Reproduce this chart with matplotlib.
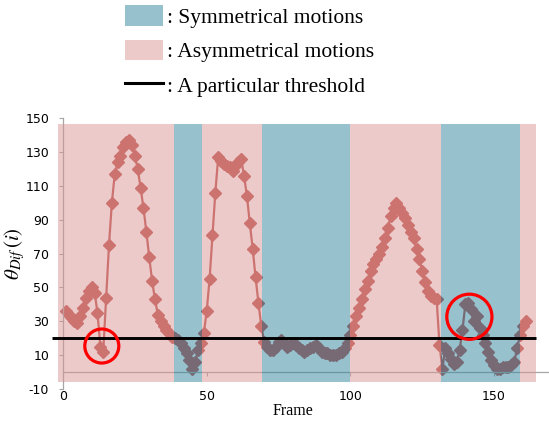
import numpy as np
import matplotlib
matplotlib.use("Agg")
import matplotlib.pyplot as plt
from matplotlib.patches import Patch
from matplotlib.lines import Line2D

plt.rcParams['mathtext.fontset'] = 'stix'
plt.rcParams['axes.unicode_minus'] = False

# theta_Dif per frame (frames 1..161)
theta_dif = [36, 34, 32, 30, 29, 33, 38, 44, 48, 50,
             47, 35, 15, 12, 44, 75, 100, 117, 124, 128,
             133, 136, 137, 134, 128, 120, 109, 97, 83, 68,
             54, 43, 34, 30, 27, 25, 23, 21, 20, 19,
             17, 14, 11, 7, 2, 6, 13, 17, 23, 36,
             55, 81, 106, 127, 125, 123, 122, 121, 119, 122,
             124, 126, 116, 104, 88, 73, 56, 41, 27, 18,
             15, 13, 13, 15, 18, 19, 17, 15, 16, 17,
             16, 14, 13, 12, 13, 14, 15, 16, 14, 12,
             11, 11, 10, 10, 10, 11, 12, 14, 17, 22,
             27, 33, 38, 43, 49, 54, 60, 64, 67, 70,
             74, 79, 85, 92, 97, 100, 97, 94, 91, 87,
             83, 79, 73, 67, 60, 53, 48, 45, 44, 43,
             16, 2, 14, 11, 8, 5, 6, 13, 25, 40,
             41, 37, 30, 33, 26, 22, 17, 12, 7, 4,
             2, 2, 3, 3, 3, 4, 6, 14, 22, 27, 30]
frames = np.arange(1, len(theta_dif) + 1)

# motion segments (frame boundaries) and their type
seg_edges = [-1.7, 38.6, 48.3, 69.4, 99.9, 131.5, 158.9, 164.6]
seg_types = ['asym', 'sym', 'asym', 'sym', 'asym', 'sym', 'asym']
band_lo, band_hi = -5.7, 146.6

threshold = 20
thr_span = [-4.0, 164.6]

# highlighted points (red circles)
circ_x = [13.5, 141.4]
circ_y = [15.4, 32.7]
circ_d = [24.5, 32.5]   # diameters in points

sym_col = '#31859C'
asym_col = '#D99694'
line_col = '#C0504D'

fig = plt.figure(figsize=(5.49, 4.21), dpi=100)
ax = fig.add_axes([50/549, 32/421, 499/549, 270.7/421])

ax.plot(frames, theta_dif, color=line_col, lw=1.6, marker='D', ms=5.8,
        mec=line_col, mfc=line_col, zorder=2)

lefts = np.array(seg_edges[:-1])
widths = np.diff(seg_edges)
cols = [sym_col if t == 'sym' else asym_col for t in seg_types]
ax.bar(lefts, band_hi - band_lo, width=widths, bottom=band_lo, align='edge',
       color=cols, alpha=0.5, linewidth=0, zorder=3)

ax.hlines(threshold, thr_span[0], thr_span[1], color='black', lw=2.1, zorder=4)

ax.scatter(circ_x, circ_y, s=np.array(circ_d)**2, facecolors='none',
           edgecolors='#FF0000', linewidths=2.3, zorder=5)

ax.set_xlim(-(13/2.874), 486/2.874)
ax.set_ylim(-10, 150)

for s in ['top', 'right']:
    ax.spines[s].set_visible(False)
ax.spines['left'].set_position(('data', 0))
ax.spines['bottom'].set_position(('data', 0))
ax.spines['bottom'].set_bounds(0, 169)
for s in ['left', 'bottom']:
    ax.spines[s].set_color('#A6A6A6')
    ax.spines[s].set_linewidth(0.9)

ax.set_yticks(range(-10, 151, 20))
ax.tick_params(axis='y', length=3, color='#A6A6A6', pad=7, labelsize=9)
ax.set_xticks([0, 50, 100, 150])
ax.tick_params(axis='x', length=3, color='#A6A6A6', labelbottom=False)

sec = ax.secondary_xaxis('bottom')
sec.set_xticks([0, 50, 100, 150])
sec.tick_params(length=0, pad=1, labelsize=9)
sec.spines['bottom'].set_visible(False)

ax.set_xlabel('Frame', family='Liberation Serif', fontsize=11.5)
ax.xaxis.set_label_coords(243/499, -0.05)

ax.set_ylabel(r'$\theta_{Dif}\,(i)$', fontsize=15)
ax.yaxis.set_label_coords(-0.046, 0.5)

handles = [Patch(facecolor=sym_col, alpha=0.5, linewidth=0),
           Patch(facecolor=asym_col, alpha=0.5, linewidth=0),
           Line2D([], [], color='black', lw=2.2)]
labels = [': Symmetrical motions', ': Asymmetrical motions', ': A particular threshold']
fig.legend(handles, labels, loc='upper left', bbox_to_anchor=(125/549, 1 - 5/421),
           frameon=False, prop={'family': 'Liberation Serif', 'size': 15.5},
           handlelength=1.75, handleheight=1.1, handletextpad=0.2,
           labelspacing=0.56, borderpad=0, borderaxespad=0)

fig.savefig('out.png', dpi=100)
